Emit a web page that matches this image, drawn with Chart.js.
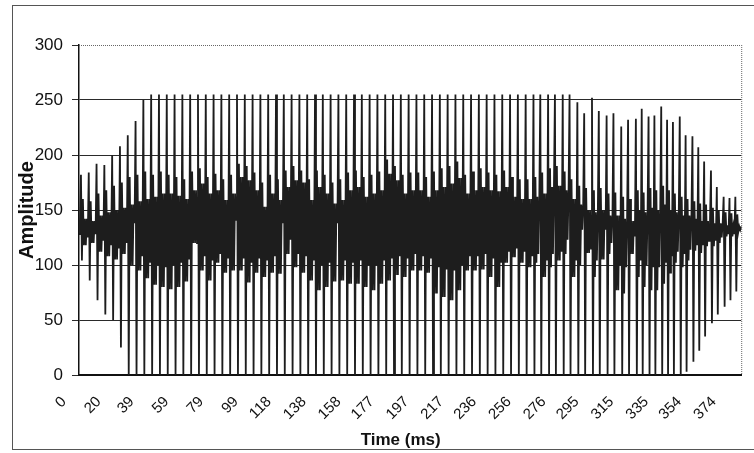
<!DOCTYPE html>
<html><head><meta charset="utf-8">
<script src="https://cdn.jsdelivr.net/npm/chart.js@4.4.1/dist/chart.umd.min.js"></script>
<style>html,body{margin:0;padding:0;background:#fff;}#wrap{width:754px;height:453px;position:relative;}</style>
</head><body><div id="wrap"><canvas id="c" width="754" height="453"></canvas></div>
<script>
// ---- data ----
const timeTickLabels = ['0','20','39','59','79','99','118','138','158','177','197','217','236','256','276','295','315','335','354','374'];
const leadIn = [128, 140];
// one entry per pitch cycle (89 cycles)
const cyclePeak = [182,184,192,191,200,208,218,231,250,255,255,255,255,255,
  255,255,255,255,255,255,255,255,255,255,255,255,255,255,255,
  255,255,255,255,255,255,255,255,255,255,255,255,255,255,
  255,255,255,255,255,255,255,255,255,255,255,255,255,255,
  255,255,255,255,255,255,255,248,238,252,240,236,238,226,232,
  233,242,235,236,244,232,230,235,218,217,207,194,186,171,162,161,162];
const cycleTrough = [104,86,68,55,50,25,0,0,0,0,0,0,0,0,
  0,0,0,0,0,0,0,0,0,0,0,0,0,0,0,
  0,0,0,0,0,0,0,0,0,0,0,0,0,0,
  0,0,0,0,0,0,0,0,0,0,0,0,0,0,
  0,0,0,0,0,0,0,0,0,0,0,0,0,0,0,
  0,0,0,0,0,0,0,0,3,12,22,35,47,55,62,68,76];
const cycleShoulder = [160,158,165,168,172,175,180,182,185,182,185,182,180,178,
  185,188,180,183,178,182,192,190,184,175,182,178,186,190,186,
  178,186,182,175,178,184,186,180,182,185,196,190,182,184,
  184,180,185,188,190,194,182,185,188,184,182,186,180,178,
  178,180,184,188,190,185,178,172,170,168,170,165,166,162,160,
  168,166,170,168,172,168,165,162,160,158,156,155,152,150,148,147,146];
const cycleBodyHigh = [142,140,145,148,150,152,155,158,160,162,165,165,163,160,
  168,174,165,168,159,165,180,177,168,153,165,159,171,177,175,
  159,171,165,156,159,168,171,162,165,168,183,177,165,168,
  168,162,168,171,174,179,165,168,171,168,167,171,162,160,
  160,162,165,171,172,168,160,155,150,148,150,145,145,142,140,
  150,148,152,150,155,150,148,145,145,142,140,140,138,138,136,135,135];
const cycleBodyLow = [118,120,112,108,105,110,100,95,88,82,80,78,80,85,
  120,95,86,102,93,95,95,84,93,89,93,92,110,98,93,
  86,77,80,85,86,83,83,80,77,83,86,91,89,95,
  95,93,74,71,68,77,95,95,96,89,80,102,107,102,
  98,102,89,98,104,110,89,100,111,89,105,110,77,74,110,
  89,80,77,77,83,93,102,98,104,113,111,117,117,120,126,126,130];
const cycleLastDip = [125,128,122,118,115,120,138,108,102,100,98,100,102,105,
  120,108,104,110,106,141,106,102,106,104,108,138,123,110,108,
  104,100,102,138,104,102,104,100,100,104,106,108,106,110,
  108,106,98,96,95,100,108,108,110,106,102,112,115,112,
  108,110,104,110,112,123,104,132,115,104,132,120,100,98,126,
  104,100,98,98,102,108,112,110,114,118,118,122,122,125,128,128,132];
const cycleSamples = [8,8,8,8,8,8,8,8,8,8,8,8,8,8,
  8,8,8,8,8,8,8,8,8,8,8,8,8,8,8,
  8,8,8,8,8,8,8,8,8,8,8,8,8,8,
  8,8,8,8,8,8,8,8,8,8,8,8,8,8,
  8,7,8,7,8,7,8,7,8,7,8,7,8,7,8,
  6,7,6,7,6,6,7,6,7,6,6,7,6,7,6,6,7];

// build the sample table (order of features inside one cycle, by cycle length)
const cycleOrder = {
  8: ['peak','trough','shoulder','low','high','low','high','dip'],
  7: ['peak','trough','shoulder','low','high','dip','high'],
  6: ['peak','trough','shoulder','low','high','dip']
};
const amplitude = [...leadIn];
for (let i = 0; i < cyclePeak.length; i++) {
  const f = {peak: cyclePeak[i], trough: cycleTrough[i], shoulder: cycleShoulder[i],
             low: cycleBodyLow[i], high: cycleBodyHigh[i], dip: cycleLastDip[i]};
  cycleOrder[cycleSamples[i]].forEach(k => amplitude.push(f[k]));
}
const sampleIndex = amplitude.map((_, i) => String(i));

const FONT = "'Liberation Sans', Arial, sans-serif";
Chart.defaults.font.family = FONT;
Chart.defaults.color = '#111';

const frame = {
  id: 'frame',
  afterDraw(chart) {
    const {ctx, chartArea: a} = chart;
    ctx.save();
    ctx.strokeStyle = '#666'; ctx.lineWidth = 1;
    ctx.setLineDash([1, 1]);
    ctx.beginPath();
    ctx.moveTo(a.left, a.top + 0.5); ctx.lineTo(a.right, a.top + 0.5);
    ctx.moveTo(a.right + 0.5, a.top); ctx.lineTo(a.right + 0.5, a.bottom);
    ctx.stroke();
    ctx.setLineDash([]);
    ctx.strokeStyle = '#555';
    ctx.strokeRect(12.5, 5.5, 752, 444);
    ctx.restore();
  }
};

new Chart(document.getElementById('c'), {
  type: 'line',
  data: {
    labels: sampleIndex,
    datasets: [{
      data: amplitude, xAxisID: 'x', yAxisID: 'y',
      borderColor: '#1d1d1d', borderWidth: 1.8, pointRadius: 0, tension: 0, fill: false
    }]
  },
  options: {
    responsive: false, animation: false, devicePixelRatio: 1,
    layout: {padding: {top: 45, right: 7, left: 0, bottom: 0}},
    plugins: {legend: {display: false}, tooltip: {enabled: false}},
    scales: {
      x: {type: 'category', display: false, offset: false},
      xt: {
        type: 'linear', position: 'bottom', min: 0, max: 381,
        afterBuildTicks: s => { s.ticks = timeTickLabels.map(t => ({value: Number(t)})); },
        ticks: {autoSkip: false, minRotation: 45, maxRotation: 45, padding: 12, labelOffset: -15,
          font: {size: 15}, color: '#111', callback: (v, i) => timeTickLabels[i]},
        grid: {display: false, drawTicks: true, tickLength: 6},
        border: {display: true, color: '#111', width: 2},
        title: {display: true, text: 'Time (ms)    ', color: '#111',
          font: {size: 17, weight: 'bold'}, padding: {top: 0, bottom: 2}},
        afterFit: s => { s.height = 78; }
      },
      y: {
        min: 0, max: 300,
        ticks: {stepSize: 50, padding: 9, font: {size: 17}, color: '#111'},
        grid: {color: c => (c.tick && c.tick.value === 300) ? 'rgba(0,0,0,0)' : '#2a2a2a',
          lineWidth: 1, tickLength: 7, tickColor: '#2a2a2a', drawTicks: true},
        border: {display: true, color: '#111', width: 1.5},
        title: {display: true, text: 'Amplitude', color: '#111',
          font: {size: 20, weight: 'bold'}, padding: {top: 15, bottom: 0}},
        afterFit: s => { s.width = 79; }
      }
    }
  },
  plugins: [frame]
});
</script></body></html>
